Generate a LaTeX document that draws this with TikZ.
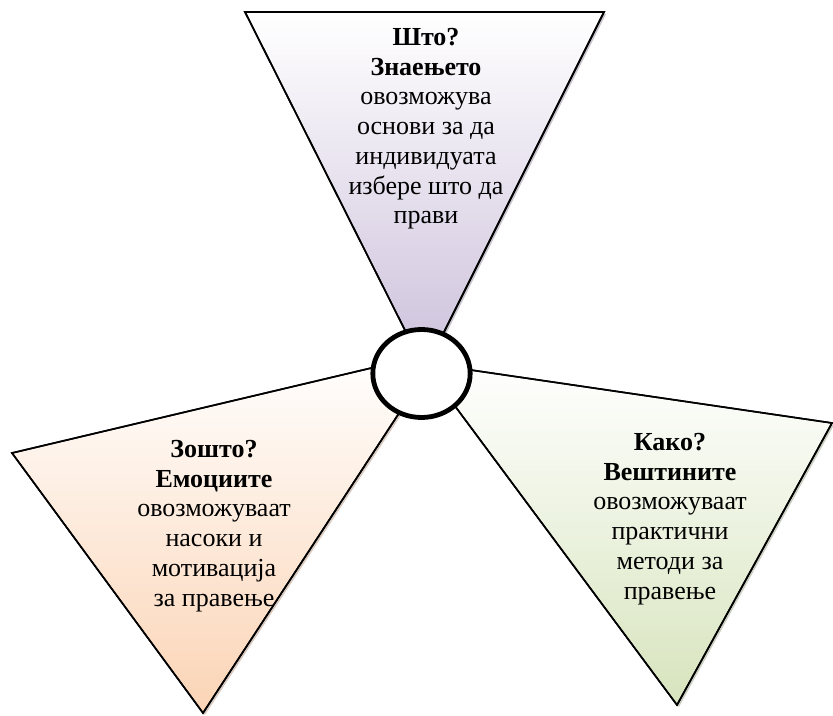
\documentclass[tikz,border=0pt]{standalone}
\usepackage{fontspec}
\setmainfont{Liberation Serif}
\usetikzlibrary{shapes.geometric,shadows}
\definecolor{wedgelilac}{RGB}{204,192,219}
\definecolor{wedgepeach}{RGB}{251,212,181}
\definecolor{wedgegreen}{RGB}{215,228,189}

\begin{document}
\begin{tikzpicture}[
  x=0.75pt, y=-0.75pt,
  wedge/.style={
    draw=black,
    line width=1.2pt,
    line join=miter,
    top color=white
  },
  hub/.style={
    draw,
    ellipse,
    line width=3.6pt,
    fill=white,
    inner sep=0pt,
    minimum width=73pt,
    minimum height=66pt
  },
  caption/.style={
    align=center,
    inner sep=0pt,
    anchor=north,
    font=\fontsize{19.5}{22.3}\selectfont
  }
]
\useasboundingbox (0,0) rectangle (833,716);

% Corners of the three wedges
\coordinate (whatL) at (245,12);
\coordinate (whatR) at (604,12);
\coordinate (whatTip) at (425,370);
\coordinate (whyL) at (12,453);
\coordinate (whyB) at (203,713);
\coordinate (whyTip) at (439,352);
\coordinate (howR) at (832,423);
\coordinate (howB) at (677,705);
\coordinate (howTip) at (423,363);

% Wedges
\fill[wedge, bottom color=wedgelilac,
  drop shadow={shadow xshift=1.5pt, shadow yshift=-1.5pt, fill=wedgelilac!70!black, opacity=0.5}]
  (whatL) -- (whatR) -- (whatTip) -- cycle;
\fill[wedge, bottom color=wedgepeach,
  drop shadow={shadow xshift=1.5pt, shadow yshift=-1.5pt, fill=wedgepeach!70!black, opacity=0.5}]
  (whyL) -- (whyTip) -- (whyB) -- cycle;
\fill[wedge, bottom color=wedgegreen,
  drop shadow={shadow xshift=1.5pt, shadow yshift=-1.5pt, fill=wedgegreen!70!black, opacity=0.5}]
  (howTip) -- (howR) -- (howB) -- cycle;
\draw[line width=1.2pt, line join=miter] (whatL) -- (whatR) -- (whatTip) -- cycle;
\draw[line width=1.2pt, line join=miter] (whyL) -- (whyTip) -- (whyB) -- cycle;
\draw[line width=1.2pt, line join=miter] (howTip) -- (howR) -- (howB) -- cycle;

% Centre ring
\node[hub] (hub) at (421.5,373.5) {};

% Texts
\node[caption] (what) at (426,28) {\textbf{Што?}\\\textbf{Знаењето}\\овозможува\\основи за да\\индивидуата\\избере што да\\прави};
\node[caption] (why) at (214,440) {\textbf{Зошто?}\\\textbf{Емоциите}\\овозможуваат\\насоки и\\мотивација\\за правење};
\node[caption] (how) at (670,433) {\textbf{Како?}\\\textbf{Вештините}\\овозможуваат\\практични\\методи за\\правење};

\end{tikzpicture}
\end{document}
